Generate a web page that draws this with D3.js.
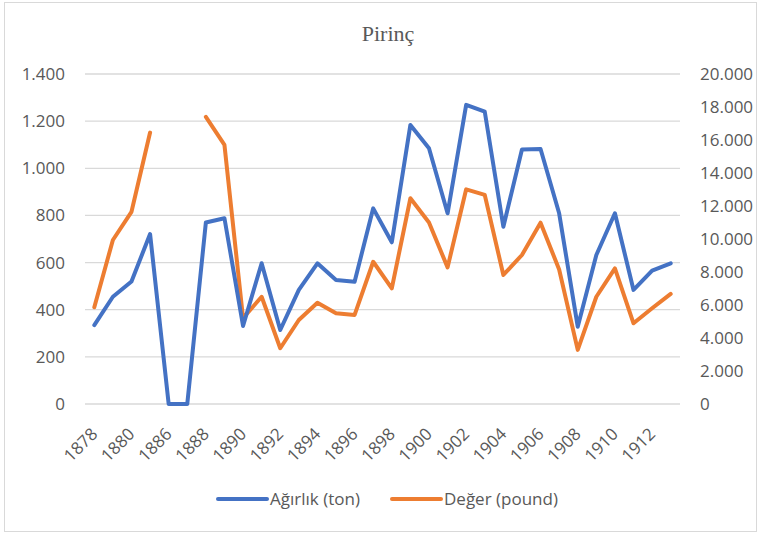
<!DOCTYPE html>
<html>
<head>
<meta charset="utf-8">
<script src="https://cdn.jsdelivr.net/npm/d3@7"></script>
<style>
  body { margin: 0; background: #fff; }
  svg { display: block; }
</style>
</head>
<body>
<div id="chart-area"></div>
<script>
// data
var years = ["1878","1879","1880","1881","1886","1887","1888","1889","1890","1891",
             "1892","1893","1894","1895","1896","1897","1898","1899","1900","1901",
             "1902","1903","1904","1905","1906","1907","1908","1909","1910","1911",
             "1912","1913"];

var agirlik = [335, 455, 520, 721, 0, 0, 770, 788, 331, 597,
               314, 484, 597, 526, 519, 830, 686, 1184, 1085, 809,
               1269, 1240, 752, 1080, 1082, 809, 328, 632, 809, 484,
               566, 597];

var deger = [5860, 9940, 11650, 16450, null, null, 17400, 15700, 5200, 6500,
             3380, 5090, 6140, 5500, 5400, 8620, 7010, 12470, 11000, 8280,
             13010, 12670, 7820, 9030, 10990, 8150, 3280, 6500, 8220, 4890,
             5800, 6670];

var leftTicks = [0, 200, 400, 600, 800, 1000, 1200, 1400];
var rightTicks = [0, 2000, 4000, 6000, 8000, 10000, 12000, 14000, 16000, 18000, 20000];

var seriesNames = ["Ağırlık (ton)", "Değer (pound)"];
var colors = ["#4472C4", "#ED7D31"];

var W = 762, H = 534;
var margin = { left: 85, right: 82, top: 74, bottom: 130 };
var width = W - margin.left - margin.right,
    height = H - margin.top - margin.bottom;

var fontFam = "'Open Sans', sans-serif";
var textCol = "#595959";

var fmt = function(d) { return d3.format(",")(d).replace(/,/g, "."); };

var svg = d3.select("#chart-area")
    .append("svg")
        .attr("width", W)
        .attr("height", H);

// chart border
svg.append("rect")
    .attr("x", 4.5).attr("y", 2.5)
    .attr("width", 752).attr("height", 529)
    .attr("fill", "#fff")
    .attr("stroke", "#d9d9d9");

var g = svg.append("g")
    .attr("transform", "translate(" + margin.left + ", " + margin.top + ")");

// scales
var x = d3.scalePoint()
    .domain(years)
    .range([0, width])
    .padding(0.5);

var yL = d3.scaleLinear().domain([0, 1400]).range([height, 0]);
var yR = d3.scaleLinear().domain([0, 20000]).range([height, 0]);

// gridlines
g.append("g")
    .selectAll("line")
    .data(leftTicks)
    .enter().append("line")
        .attr("x1", 0).attr("x2", width)
        .attr("y1", function(d){ return yL(d); })
        .attr("y2", function(d){ return yL(d); })
        .attr("stroke", "#d9d9d9")
        .attr("stroke-width", 1.3);

// left axis
var yAxisL = g.append("g")
    .call(d3.axisLeft(yL).tickValues(leftTicks).tickSize(0).tickPadding(20).tickFormat(fmt));
yAxisL.select(".domain").remove();

// right axis
var yAxisR = g.append("g")
    .attr("transform", "translate(" + width + ",0)")
    .call(d3.axisRight(yR).tickValues(rightTicks).tickSize(0).tickPadding(20).tickFormat(fmt));
yAxisR.select(".domain").remove();

g.selectAll(".tick text")
    .attr("font-family", fontFam)
    .attr("font-size", "17px")
    .attr("fill", textCol);

// x labels, every second category
g.append("g")
    .selectAll("text")
    .data(years.filter(function(d, i){ return i % 2 === 0; }))
    .enter().append("text")
        .attr("transform", function(d){ return "translate(" + x(d) + "," + (height + 27) + ") rotate(-45)"; })
        .attr("text-anchor", "end")
        .attr("dy", "0.35em")
        .attr("font-family", fontFam)
        .attr("font-size", "17px")
        .attr("fill", textCol)
        .text(function(d){ return d; });

// lines
var lineL = d3.line()
    .x(function(d, i){ return x(years[i]); })
    .y(function(d){ return yL(d); });

var lineR = d3.line()
    .defined(function(d){ return d !== null; })
    .x(function(d, i){ return x(years[i]); })
    .y(function(d){ return yR(d); });

g.append("path")
    .datum(deger)
    .attr("d", lineR)
    .attr("fill", "none")
    .attr("stroke", colors[1])
    .attr("stroke-width", 4)
    .attr("stroke-linejoin", "round")
    .attr("stroke-linecap", "round");

g.append("path")
    .datum(agirlik)
    .attr("d", lineL)
    .attr("fill", "none")
    .attr("stroke", colors[0])
    .attr("stroke-width", 4)
    .attr("stroke-linejoin", "round")
    .attr("stroke-linecap", "round");

// title
svg.append("text")
    .attr("x", 388)
    .attr("y", 41)
    .attr("text-anchor", "middle")
    .attr("font-family", "'Liberation Serif', serif")
    .attr("font-size", "22px")
    .attr("fill", textCol)
    .text("Pirinç");

// legend
var legendX = [218, 392];
var leg = svg.append("g")
    .selectAll("g")
    .data(seriesNames)
    .enter().append("g")
        .attr("transform", function(d, i){ return "translate(" + legendX[i] + ", 499)"; });

leg.append("line")
    .attr("x1", 0).attr("x2", 49)
    .attr("stroke", function(d, i){ return colors[i]; })
    .attr("stroke-width", 4)
    .attr("stroke-linecap", "round");

leg.append("text")
    .attr("x", 52)
    .attr("dy", "0.35em")
    .attr("font-family", fontFam)
    .attr("font-size", "17px")
    .attr("fill", textCol)
    .text(function(d){ return d; });
</script>
</body>
</html>
